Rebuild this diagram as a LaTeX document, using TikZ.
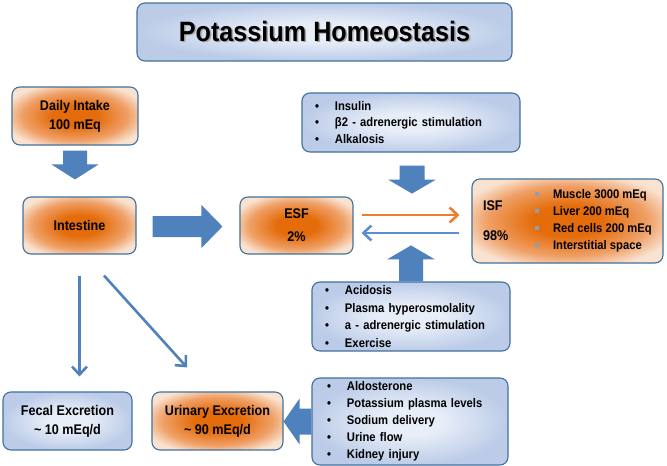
\documentclass[tikz,border=0pt]{standalone}
\usepackage{fontspec}
\setmainfont{Liberation Sans}[FakeStretch=0.9]
\usetikzlibrary{calc,arrows.meta}
\definecolor{bordc}{HTML}{41719C}
\definecolor{arrc}{HTML}{4F81BD}
\definecolor{blC}{HTML}{E8EEF8}
\definecolor{blE}{HTML}{BCCCE8}
\definecolor{orC}{HTML}{E46C0A}
\definecolor{orM}{HTML}{EFA067}
\definecolor{orE}{HTML}{F9E2D0}
\definecolor{orln}{HTML}{ED7D31}
\definecolor{blln}{HTML}{5B8FD0}
\definecolor{sqc}{HTML}{8E9CB4}
\pgfdeclareradialshading{orglow}{\pgfpoint{0bp}{0bp}}{color(0bp)=(orC); color(9bp)=(orC); color(21bp)=(orM); color(29bp)=(orE); color(50bp)=(orE)}
\pgfdeclareradialshading{blglow}{\pgfpoint{0bp}{0bp}}{color(0bp)=(blC); color(8bp)=(blC); color(25bp)=(blE); color(50bp)=(blE)}
\newcommand\bul{\makebox[20pt][l]{•}}
\newcommand\sqb{\makebox[18pt][l]{\textcolor{sqc}{\rule[3pt]{4pt}{4pt}}}}
% vertical block arrow: from, to, shaft half, head half, head length, sign (1 down, -1 up)
\newcommand\vblock[6]{\fill[barrow] let \p1=#1, \p2=#2 in
  (\x1-#3,\y1) -- (\x1+#3,\y1) -- (\x1+#3,\y2+#6*#5) -- (\x1+#4,\y2+#6*#5) -- (\x1,\y2)
  -- (\x1-#4,\y2+#6*#5) -- (\x1-#3,\y2+#6*#5) -- cycle;}
% horizontal block arrow: sign 1 right, -1 left
\newcommand\hblock[6]{\fill[barrow] let \p1=#1, \p2=#2 in
  (\x1,\y1-#3) -- (\x1,\y1+#3) -- (\x2-#6*#5,\y1+#3) -- (\x2-#6*#5,\y1+#4) -- (\x2,\y1)
  -- (\x2-#6*#5,\y1-#4) -- (\x2-#6*#5,\y1-#3) -- cycle;}
\tikzset{
  box/.style={draw=bordc, line width=1.1pt, rounded corners=8pt, align=center,
    inner sep=0pt, font=\fontsize{14}{19}\selectfont\bfseries},
  bbox/.style={box, shade, shading=blglow},
  obox/.style={box, shade, shading=orglow},
  lbox/.style={bbox, align=left, inner xsep=13pt, font=\fontsize{12.5}{16.5}\selectfont\bfseries},
  barrow/.style={fill=arrc},
  thinarr/.style={line width=2.6pt, -{Straight Barb[length=8pt,width=15pt]}},
}
\begin{document}
\begin{tikzpicture}[x=1pt,y=-1pt]
\useasboundingbox (0,0) rectangle (667,466);
\fill[white] (0,0) rectangle (667,466);

% boxes
\node[bbox, minimum width=375pt, minimum height=58pt, font=\fontsize{28}{32}\selectfont\bfseries]
  (title) at (324.5,32) {\rlap{\textcolor{black!35}{\kern1.5pt\raisebox{-1.5pt}{Potassium Homeostasis}}}Potassium Homeostasis};
\node[obox, minimum width=126pt, minimum height=58pt] (daily) at (75,116) {Daily Intake\\100 mEq};
\node[obox, minimum width=113pt, minimum height=57pt] (intestine) at (79.5,225.5) {Intestine};
\node[obox, minimum width=113pt, minimum height=57pt] (esf) at (296.5,225.5) {ESF\\[4pt]2\%};
\node[lbox, text width=192pt, minimum height=59pt] (insulin) at (411,122.5)
  {\bul Insulin\\\bul β2 - adrenergic stimulation\\\bul Alkalosis};
\node[obox, minimum width=191pt, minimum height=84pt, inner xsep=11pt, align=left] (isf) at (567.5,221)
  {\parbox[c]{52pt}{ISF\\[11pt]98\%}\parbox[c]{117pt}{\fontsize{12.5}{17}\selectfont
   \sqb Muscle 3000 mEq\\\sqb Liver 200 mEq\\\sqb Red cells 200 mEq\\\sqb Interstitial space}};
\node[lbox, text width=172pt, minimum height=69pt, font=\fontsize{12.5}{17.5}\selectfont\bfseries]
  (acid) at (411,316.5)
  {\bul Acidosis\\\bul Plasma hyperosmolality\\\bul a - adrenergic stimulation\\\bul Exercise};
\node[bbox, minimum width=129pt, minimum height=58pt] (fecal) at (67.5,421) {Fecal Excretion\\\textasciitilde{} 10 mEq/d};
\node[obox, minimum width=131pt, minimum height=58pt] (urinary) at (217.5,421) {Urinary Excretion\\\textasciitilde{} 90 mEq/d};
\node[lbox, inner xsep=15pt, text width=166pt, minimum height=87pt, font=\fontsize{12.5}{17}\selectfont\bfseries]
  (aldo) at (410,421.5)
  {\bul Aldosterone\\\bul Potassium plasma levels\\\bul Sodium delivery\\\bul Urine flow\\\bul Kidney injury};

% block arrows
\coordinate (a1s) at ($(daily.south)+(0,5)$);
\coordinate (a1e) at ($(daily.south |- intestine.north)+(0,-17)$);
\vblock{(a1s)}{(a1e)}{12pt}{23.5pt}{15pt}{1}
\coordinate (a2s) at ($(intestine.east)+(16,1)$);
\coordinate (a2e) at ($(esf.west)+(-17,1)$);
\hblock{(a2s)}{(a2e)}{10.5pt}{21.5pt}{21pt}{1}
\coordinate (a3s) at ($(insulin.south)+(1,13)$);
\coordinate (a3e) at ($(insulin.south)+(1,41)$);
\vblock{(a3s)}{(a3e)}{12.5pt}{24pt}{14pt}{1}
\coordinate (a4s) at ($(acid.north)+(0,0)$);
\coordinate (a4e) at ($(acid.north)+(0,-36)$);
\vblock{(a4s)}{(a4e)}{12pt}{24pt}{14pt}{-1}
\coordinate (a5s) at (aldo.west);
\coordinate (a5e) at (urinary.east |- aldo.west);
\hblock{(a5s)}{(a5e)}{13pt}{23pt}{16pt}{-1}

% thin arrows
\draw[thinarr, orln] ($(esf.east)+(8,-10.5)$) -- ($(isf.west)+(-12,-6)$);
\draw[thinarr, blln] ($(isf.west)+(-12,12)$) -- ($(esf.east)+(8,7.5)$);
\draw[thinarr, arrc] ($(intestine.south)+(0,21)$) -- ($(intestine.south |- fecal.north)+(0,-15)$);
\draw[thinarr, arrc] ($(intestine.south)+(24.5,21)$) -- ($(urinary.north)+(-30.5,-24)$);
\end{tikzpicture}
\end{document}
